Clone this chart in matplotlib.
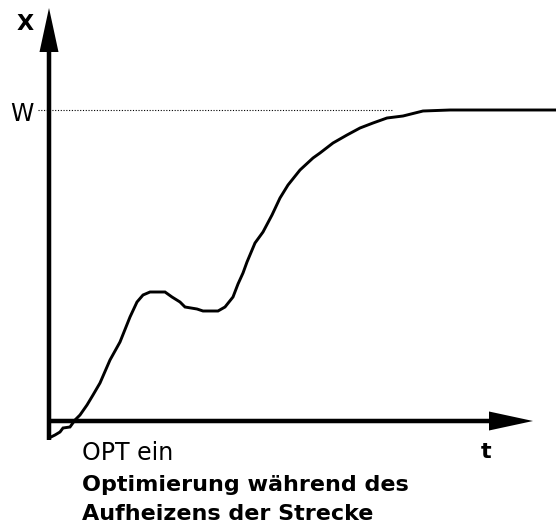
import numpy as np
import matplotlib.pyplot as plt
from matplotlib.patches import FancyArrow

plt.rcParams['font.family'] = ['DejaVu Sans']

# step response while OPT heats up the process (t, X)
t = [2, 6, 11, 14, 21, 26, 31, 38, 44, 51, 61, 71, 81, 88, 94, 101, 116, 123, 131,
     136, 148, 154, 169, 176, 184, 189, 194, 198, 206, 214, 223, 231, 239, 251, 264,
     271, 284, 298, 311, 324, 338, 354, 374, 401, 507]
x = [-16, -14, -11, -7, -6, 1, 6, 16, 26, 38, 61, 79, 104, 119, 126, 129, 129, 124,
     119, 114, 112, 110, 110, 114, 124, 137, 148, 159, 178, 189, 206, 223, 236, 251,
     263, 268, 278, 286, 293, 298, 303, 305, 310, 311, 311]
w_level = 311
w_end = 344

fig = plt.figure(figsize=(5.56, 5.25), dpi=100)
ax = fig.add_axes([0, 0, 1, 1])
ax.set_xlim(-49, 507)
ax.set_ylim(-104, 421)
ax.axis('off')

# axes with arrow heads
ax.add_patch(FancyArrow(0, -19, 0, 432, width=4.5, head_width=19, head_length=44,
                        length_includes_head=True, color='black', lw=0))
ax.add_patch(FancyArrow(-2, 0, 486, 0, width=4.5, head_width=19, head_length=44,
                        length_includes_head=True, color='black', lw=0))

ax.plot([-11, w_end], [w_level, w_level], color='black', lw=0.8, linestyle=(0, (1, 1.5)))
ax.plot(t, x, color='black', lw=2.1, solid_joinstyle='miter')

fs = 16
ax.text(-24, 397, 'X', fontsize=fs, fontweight='bold', ha='center', va='center')
ax.text(-27, 307, 'W', fontsize=fs + 1, ha='center', va='center')
ax.text(437, -31, 't', fontsize=fs, fontweight='bold', ha='center', va='center')
ax.text(33, -39, 'OPT ein', fontsize=fs + 1, ha='left', va='baseline')
ax.text(33, -70, 'Optimierung während des', fontsize=fs, fontweight='bold',
        ha='left', va='baseline')
ax.text(33, -99, 'Aufheizens der Strecke', fontsize=fs, fontweight='bold',
        ha='left', va='baseline')

fig.savefig('out.png', dpi=100)
